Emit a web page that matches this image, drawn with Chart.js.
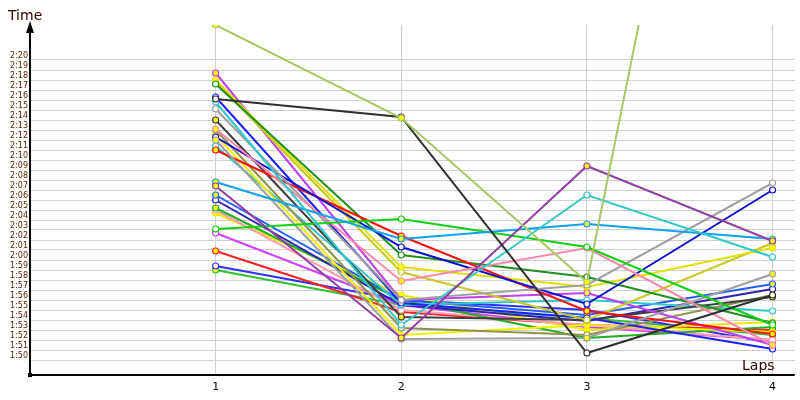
<!DOCTYPE html>
<html><head><meta charset="utf-8">
<script src="https://cdn.jsdelivr.net/npm/chart.js@4"></script>
<style>body{margin:0;background:#fff}#w{width:800px;height:400px}</style>
</head><body><div id="w"><canvas id="c"></canvas></div>
<script>
const laps = [1, 2, 3, 4];
const yTicks = [110,111,112,113,114,115,116,117,118,119,120,121,122,123,124,125,126,127,128,129,130,131,132,133,134,135,136,137,138,139,140];
const colors = ['#a8c868','#303030','#9040a0','#30c8c8','#10a0f0','#10d010','#ff88a8','#a0a0a0','#a0a0a0','#1010d0','#ff1010','#209020','#e0e000','#c8c820','#c040f0','#2020ff','#404040','#909050','#f0f000','#30c8c8','#2060ff','#3020b0','#20b020','#ffa0b0','#e8e800','#d040ff','#ff2020','#3030ff','#30c030'];
const times = [
 [143.5,134.2,117.8,210],
 [136.1,134.3,110.7,116.5],
 [127.4,112.2,129.4,121.9],
 [135.8,113.5,126.5,120.3],
 [127.8,122.1,123.6,122.1],
 [123.1,124.1,121.3,113.5],
 [133.1,117.9,121.2,111.5],
 [135.1,116.0,117.5,127.7],
 [132.0,112.1,112.2,118.6],
 [132.3,121.3,115.6,127.0],
 [131.0,122.4,114.9,112.6],
 [137.6,120.5,118.3,113.7],
 [138.0,119.3,117.3,121.2],
 [137.8,118.8,114.0,121.7],
 [138.7,116.0,116.7,111.5],
 [136.3,115.7,114.2,111.1],
 [134.0,114.3,114.0,116.3],
 [133.0,113.2,112.5,116.5],
 [132.5,112.5,113.5,112.8],
 [131.4,115.5,116.0,114.9],
 [126.5,116.0,114.5,117.6],
 [126.0,115.5,113.9,117.1],
 [125.2,116.0,112.2,113.3],
 [125.0,115.0,113.5,112.0],
 [124.7,116.5,113.0,113.8],
 [122.7,115.5,113.3,112.0],
 [120.9,114.8,113.5,113.0],
 [119.4,116.0,115.0,111.7],
 [119.0,115.5,114.2,112.5]
];
function fmt(v){const m=Math.floor(v/60),s=Math.round(v-m*60);return m+':'+(s<10?'0':'')+s;}
const datasets = times.map((t,i)=>({
  data: t.map((v,j)=>({x:laps[j],y:v})),
  borderColor: colors[i], borderWidth: 2,
  pointRadius: 3, pointBorderWidth: 1.2,
  pointBorderColor: colors[i],
  pointBackgroundColor: i%2 ? '#ffffff' : '#ffff00',
  tension: 0
}));
const arrows = {id:'arrows', afterDraw(ch){
  const c=ch.ctx, a=ch.chartArea; c.save();
  c.fillStyle='#000';c.strokeStyle='#000';c.lineWidth=2;
  c.beginPath();c.moveTo(a.left,a.bottom);c.lineTo(a.left,a.top);c.stroke();
  c.beginPath();c.moveTo(a.left,a.bottom);c.lineTo(a.right,a.bottom);c.stroke();
  c.beginPath();c.moveTo(a.left,a.top-4);c.lineTo(a.left-4,a.top+8);c.lineTo(a.left+4,a.top+8);c.fill();
  c.fillRect(a.left-2,a.bottom-2,4,4);
  c.font='14px "DejaVu Sans"';c.fillStyle='#300000';c.textBaseline='alphabetic';
  c.fillText('Time',8,20);c.fillText('Laps',742,370);
  c.restore();}};
new Chart(document.getElementById('c'),{
  type:'line', data:{datasets},
  plugins:[arrows],
  options:{responsive:true,maintainAspectRatio:false,animation:false,
    layout:{padding:{top:25,left:0,right:0,bottom:0}},
    plugins:{legend:{display:false},tooltip:{enabled:false}},
    scales:{
      x:{type:'linear',min:0,max:4.12,
        afterBuildTicks(s){s.ticks=laps.map(v=>({value:v}));},
        afterFit(s){s.height=25;},
        grid:{color:'#d0d0d0',drawTicks:false},border:{display:false},
        ticks:{padding:6,color:'#000',font:{family:'DejaVu Sans',size:11}}},
      y:{type:'linear',min:108.5,max:143.5,
        afterBuildTicks(s){s.ticks=yTicks.map(v=>({value:v}));},
        afterFit(s){s.width=30;},
        grid:{color:'#d0d0d0',drawTicks:false},border:{display:false},
        ticks:{padding:2,labelOffset:-4,autoSkip:false,color:'#602000',callback:v=>fmt(v),font:{family:'DejaVu Sans',size:8}}}
    }}
});
</script></body></html>
